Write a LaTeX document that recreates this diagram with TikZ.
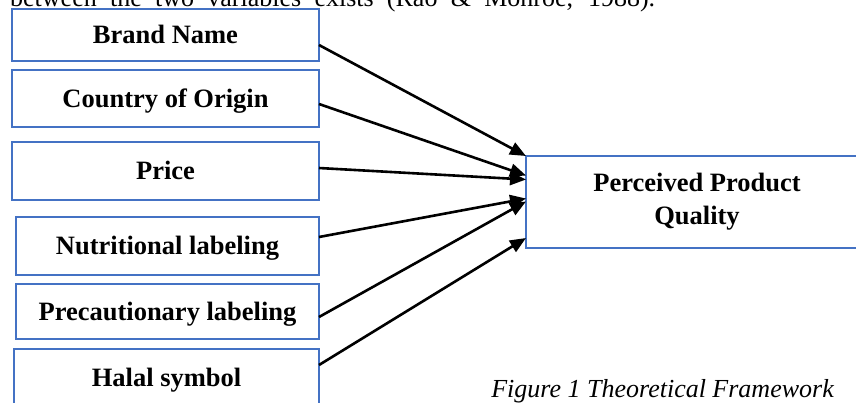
\documentclass[tikz,border=0pt]{standalone}
\usepackage{fontspec}
\setmainfont{Liberation Serif}
\usetikzlibrary{arrows.meta}
\definecolor{boxblue}{HTML}{4472C4}
\begin{document}
\begin{tikzpicture}[x=1pt,y=-1pt,
  srcbox/.style={draw=boxblue, line width=2.2pt, outer sep=0pt, inner sep=0pt,
    font=\fontsize{26.5}{33.3}\selectfont\bfseries, text height=17.5pt, text depth=0pt, align=center},
  tgtbox/.style={draw=boxblue, line width=2.2pt, outer sep=0pt, inner sep=0pt,
    font=\fontsize{26.5}{33.3}\selectfont\bfseries, align=center},
  conn/.style={line width=2.6pt, -{Triangle[length=16pt,width=13pt]}},
  plain/.style={inner sep=0pt, font=\fontsize{26}{30}\selectfont}
  ]
\useasboundingbox (0,0) rectangle (856,402);
\fill[white] (0,0) rectangle (856,402);

\node[plain, anchor=base west] (toptext) at (10,6)
  {\makebox[645pt][s]{between the two variables exists (Rao \& Monroe, 1988).}};

\node[srcbox, minimum width=307pt, minimum height=52pt] (b1) at (165.5,35) {Brand Name};
\node[srcbox, minimum width=307pt, minimum height=57pt] (b2) at (165.5,98.5) {Country of Origin};
\node[srcbox, minimum width=307pt, minimum height=58pt] (b3) at (165.5,171) {Price};
\node[srcbox, minimum width=303pt, minimum height=58pt] (b4) at (167.5,246) {Nutritional labeling};
\node[srcbox, minimum width=303pt, minimum height=55pt] (b5) at (167.5,311.5) {Precautionary labeling};
\node[srcbox, minimum width=305pt, minimum height=58pt] (b6) at (166.5,378) {Halal symbol};

\node[tgtbox, minimum width=342pt, minimum height=92pt] (pq) at (697,202) {Perceived Product\\Quality};

\draw[conn] ([yshift=-10pt]b1.east) -- ([yshift=46pt]pq.west);
\draw[conn] ([yshift=-5.5pt]b2.east) -- ([yshift=26.5pt]pq.west);
\draw[conn] ([yshift=3pt]b3.east) -- ([yshift=22.5pt]pq.west);
\draw[conn] ([yshift=9pt]b4.east) -- ([yshift=3.5pt]pq.west);
\draw[conn] ([yshift=-5.5pt]b5.east) -- ([yshift=0.5pt]pq.west);
\draw[conn] ([yshift=13pt]b6.east) -- ([yshift=-36pt]pq.west);

\node[plain, anchor=base east, font=\fontsize{26}{30}\selectfont\itshape] (caption) at (834,397)
  {Figure 1 Theoretical Framework};
\end{tikzpicture}
\end{document}
